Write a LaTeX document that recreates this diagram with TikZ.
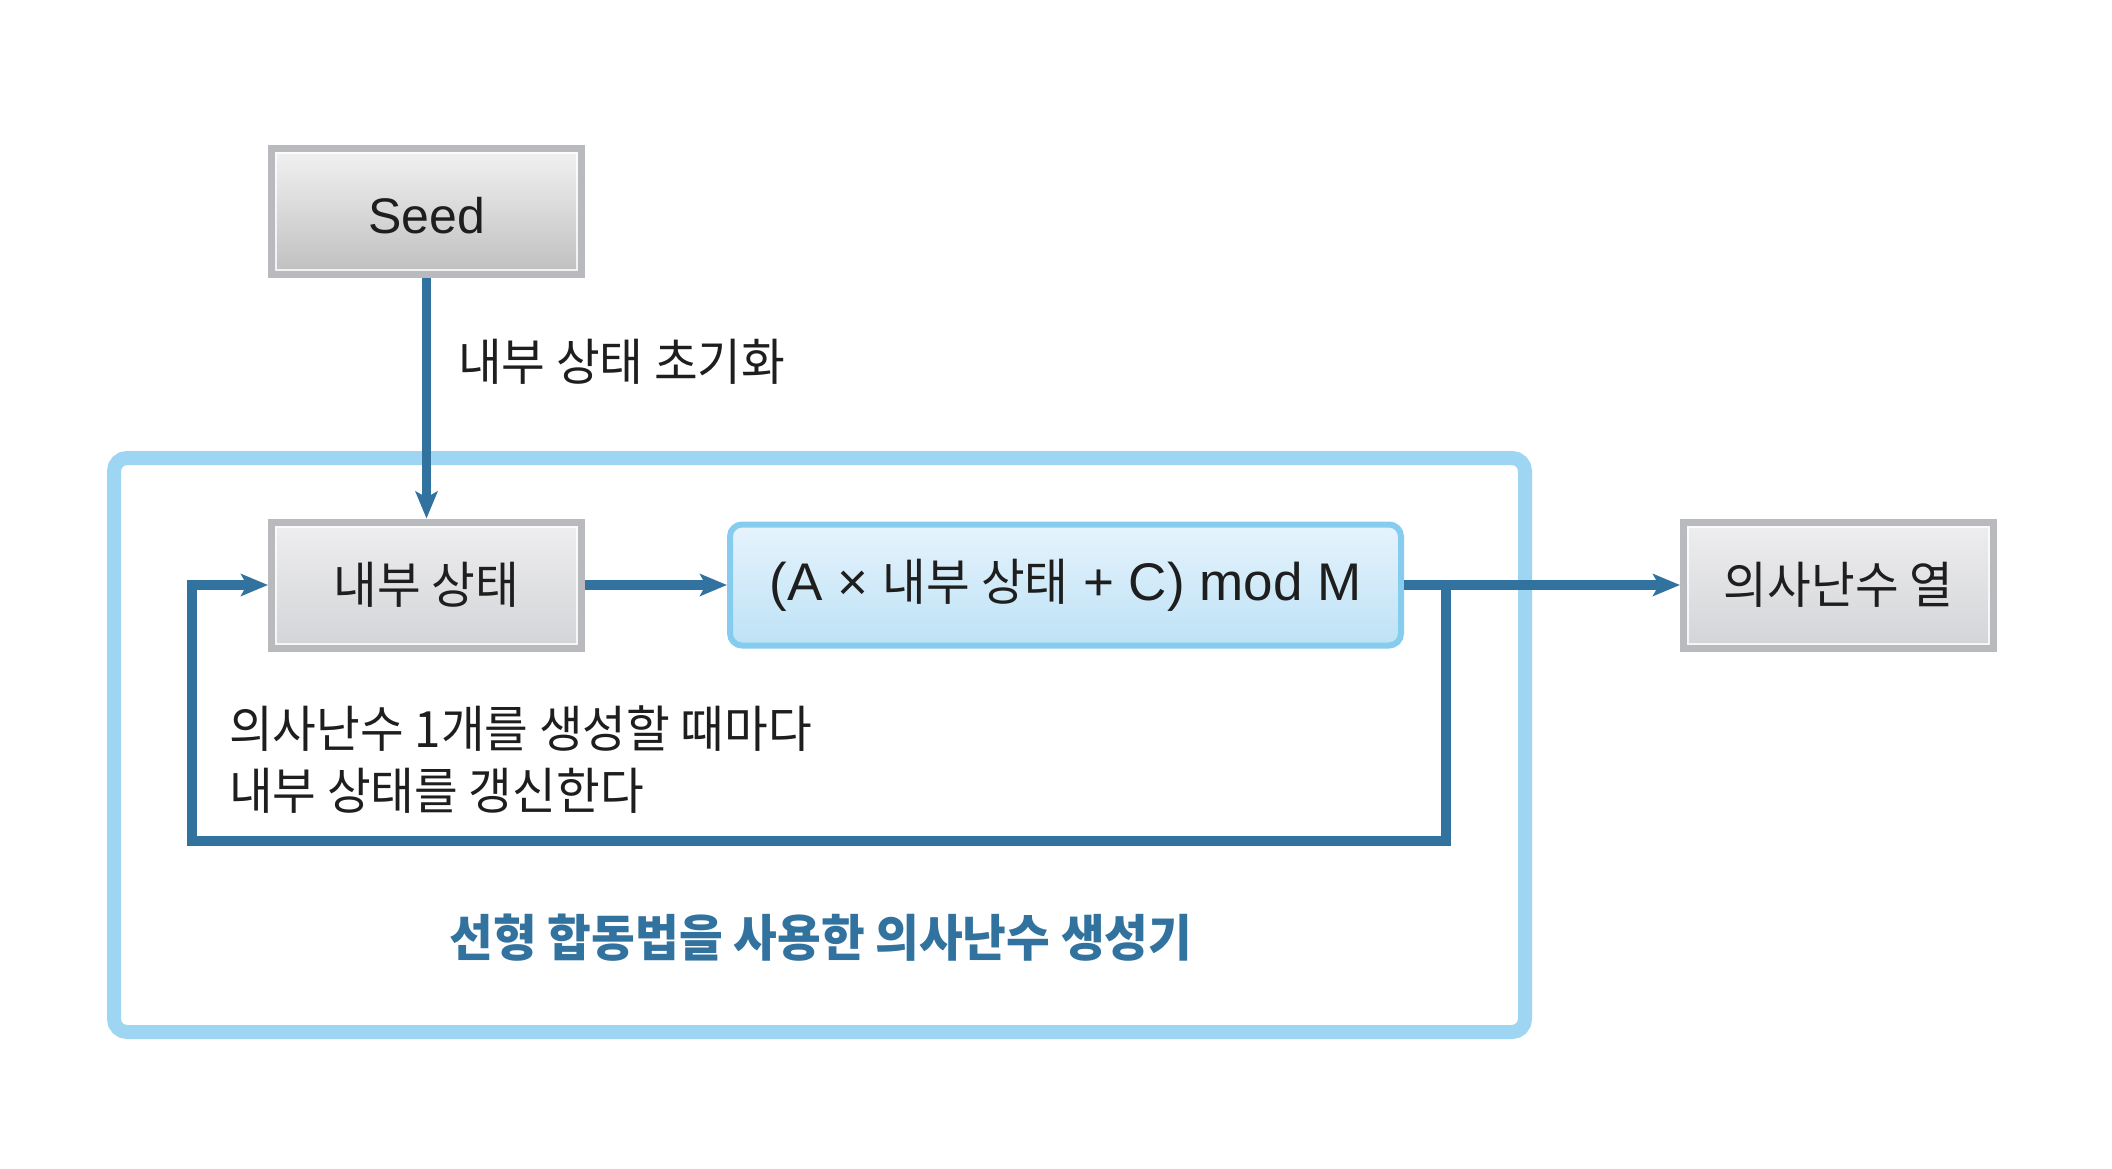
\documentclass[tikz,border=0pt]{standalone}
\usepackage{fontspec}
\setmainfont{Liberation Sans}
\newfontfamily\kr[FakeStretch=0.95]{Noto Sans CJK KR}
\newfontfamily\lat{Liberation Sans}
\usetikzlibrary{arrows.meta}
\definecolor{abl}{HTML}{31729E}
\definecolor{lbl}{HTML}{9DD5F2}
\definecolor{fbord}{HTML}{86CCEF}
\definecolor{ftop}{HTML}{E6F3FC}
\definecolor{fbot}{HTML}{BDE2F6}
\definecolor{gbord}{HTML}{B9BABE}
\definecolor{txt}{HTML}{1E1E1E}
\definecolor{stop}{HTML}{F2F2F3}
\definecolor{smid}{HTML}{C3C3C4}
\definecolor{sbot}{HTML}{BFBFC0}
\definecolor{gtop}{HTML}{EEEEF0}
\definecolor{gbot}{HTML}{D3D4D7}
\newcommand{\hilite}[1]{\draw[line width=2pt, draw=white, opacity=0.8] ([shift={(8pt,-8pt)}]#1.north west) rectangle ([shift={(-8pt,8pt)}]#1.south east);}
\begin{document}
\begin{tikzpicture}[x=1pt,y=-1pt,
  gbox/.style={rectangle, minimum width=310pt, minimum height=126pt, inner sep=0pt,
    line width=7pt, outer sep=3.5pt, draw=gbord, text=txt},
  fbox/.style={rectangle, rounded corners=12pt, minimum width=671pt, minimum height=121pt,
    inner sep=0pt, line width=6pt, outer sep=3pt, draw=fbord, top color=ftop, bottom color=fbot, text=txt},
  lab/.style={inner sep=0pt, text=txt},
  arr/.style={draw=abl, line width=9.5pt, line join=miter,
    -{Stealth[length=27pt,width=22pt,inset=6pt]}}
]
\useasboundingbox (0,0) rectangle (2112,1169);
\fill[white] (0,0) rectangle (2112,1169);

% outer frame
\draw[lbl, line width=14pt, rounded corners=13pt] (114,458) rectangle (1525,1032);

% boxes
\node[gbox, top color=stop, middle color=smid, bottom color=sbot,
  font=\fontsize{50}{60}\selectfont\lat] (seed) at (426.5,211.5) {\raisebox{-4pt}[\height][\depth]{Seed}};
\node[gbox, top color=gtop, bottom color=gbot,
  font=\fontsize{50}{60}\selectfont\kr] (state) at (426.5,585) {내부 상태};
\node[fbox, font=\fontsize{53}{60}\selectfont\lat] (formula) at (1065.5,585)
  {(A × {\kr\fontsize{50}{60}\selectfont 내부 상태} + C) mod M};
\node[gbox, top color=gtop, bottom color=gbot,
  font=\fontsize{50}{60}\selectfont\kr] (out) at (1838.5,585) {의사난수 열};
\hilite{seed}
\hilite{state}
\hilite{out}

% connectors
\coordinate (j) at (1446,585);
\coordinate (c1) at (1446,841);
\coordinate (c2) at (192,841);
\coordinate (c3) at (192,585);
\draw[arr] (seed.south) -- (state.north);
\draw[arr] (state.east) -- (formula.west);
\draw[arr] (formula.east) -- (out.west);
\draw[arr] (j) -- (c1) -- (c2) -- (c3) -- (state.west);

% labels
\node[lab, anchor=west, font=\fontsize{50}{62}\selectfont\kr] (init) at (458,362) {내부 상태 초기화};
\node[lab, anchor=west, align=left, font=\fontsize{50}{62}\selectfont\kr] (upd) at (229,760)
  {의사난수 1개를 생성할 때마다\\내부 상태를 갱신한다};
\node[inner sep=0pt, text=abl, font=\fontsize{50}{60}\selectfont\kr\bfseries] (title) at (821,938)
  {선형 합동법을 사용한 의사난수 생성기};
\end{tikzpicture}
\end{document}
